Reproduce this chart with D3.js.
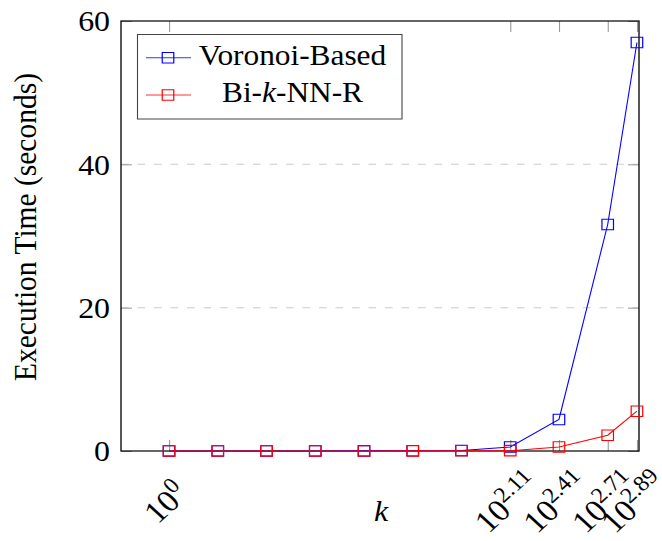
<!DOCTYPE html>
<html>
<head>
<meta charset="utf-8">
<script src="https://cdn.jsdelivr.net/npm/d3@7"></script>
<style>
  body { margin: 0; background: #fff; }
  text { font-family: "Liberation Serif", "Times New Roman", serif; fill: #000; }
</style>
</head>
<body>
<svg id="chart" width="662" height="541"></svg>
<script>
// data
var kValues = [1, 2, 4, 8, 16, 32, 64, 128, 256, 512, 776];
var voronoiTimes = [0.01, 0.01, 0.01, 0.01, 0.02, 0.03, 0.06, 0.56, 4.4, 31.6, 57.0];
var biknnTimes = [0.01, 0.01, 0.01, 0.01, 0.01, 0.02, 0.03, 0.05, 0.56, 2.2, 5.55];
var seriesNames = ["Voronoi-Based", "Bi-k-NN-R"];
var seriesColors = ["#0000ff", "#ff0000"];
var xTickValues = [1, 128, 256, 512, 776];
var xTickLabels = ["0", "2.11", "2.41", "2.71", "2.89"];
var yTickValues = [0, 20, 40, 60];

(function () {
    // the original figure is a bit wider than tall, stretch everything horizontally
    var SX = 1.1;
    var pLeft = 121, pRight = 639, pTop = 21, pBottom = 451;

    var svg = d3.select("#chart");
    var g = svg.append("g").attr("transform", "scale(" + SX + ",1)");

    var x = d3.scaleLog().domain([0.505, 799]).range([pLeft / SX, pRight / SX]);
    var y = d3.scaleLinear().domain([0, 60]).range([pBottom, pTop]);

    // grid
    g.append("g")
        .selectAll("line")
        .data([20, 40])
        .enter()
        .append("line")
        .attr("x1", pLeft / SX)
        .attr("x2", pRight / SX)
        .attr("y1", function (d) { return y(d); })
        .attr("y2", function (d) { return y(d); })
        .attr("stroke", "#cccccc")
        .attr("stroke-width", 1)
        .attr("stroke-dasharray", "7,8");

    // ticks, all pointing inside
    var tickLen = 11;
    var yLeft = g.append("g")
        .attr("transform", "translate(" + (pLeft / SX) + ",0)")
        .call(d3.axisLeft(y).tickValues(yTickValues).tickSize(-tickLen / SX).tickPadding(11 / SX));
    var yRight = g.append("g")
        .attr("transform", "translate(" + (pRight / SX) + ",0)")
        .call(d3.axisRight(y).tickValues(yTickValues).tickSize(-tickLen / SX).tickFormat(""));
    var xBottom = g.append("g")
        .attr("transform", "translate(0," + pBottom + ")")
        .call(d3.axisBottom(x).tickValues(xTickValues).tickSize(-tickLen).tickFormat(""));
    var xTop = g.append("g")
        .attr("transform", "translate(0," + pTop + ")")
        .call(d3.axisTop(x).tickValues(xTickValues).tickSize(-tickLen).tickFormat(""));

    [yLeft, yRight, xBottom, xTop].forEach(function (ax) {
        ax.select(".domain").remove();
        ax.selectAll(".tick line").attr("stroke", "#999999").attr("stroke-width", 1);
    });
    yLeft.selectAll(".tick text")
        .attr("font-size", 29)
        .attr("fill", "#000")
        .attr("dy", "0.34em");

    // x tick labels 10^n, rotated
    var xl = g.append("g")
        .selectAll(".xlabel")
        .data(xTickValues)
        .enter()
        .append("text")
        .classed("xlabel", true)
        .attr("text-anchor", "middle")
        .attr("font-size", 31)
        .attr("transform", function (d) { return "translate(" + (x(d) + 5 / SX) + ",510) rotate(-45)"; });
    xl.append("tspan").text("10");
    xl.append("tspan")
        .attr("font-size", 22)
        .attr("dy", -12)
        .text(function (d, i) { return xTickLabels[i]; });

    // frame
    g.append("rect")
        .attr("x", pLeft / SX)
        .attr("y", pTop)
        .attr("width", (pRight - pLeft) / SX)
        .attr("height", pBottom - pTop)
        .attr("fill", "none")
        .attr("stroke", "#000")
        .attr("stroke-width", 1.2);

    // series
    var series = [voronoiTimes, biknnTimes];
    var line = d3.line()
        .x(function (d, i) { return x(kValues[i]); })
        .y(function (d) { return y(d); });
    var square = d3.symbol().type(d3.symbolSquare).size(110);

    series.forEach(function (vals, s) {
        var sg = g.append("g").classed("series", true);
        sg.append("path")
            .datum(vals)
            .attr("d", line)
            .attr("fill", "none")
            .attr("stroke", seriesColors[s])
            .attr("stroke-width", 1);
        sg.selectAll(".mark")
            .data(vals)
            .enter()
            .append("path")
            .classed("mark", true)
            .attr("d", square)
            .attr("transform", function (d, i) { return "translate(" + x(kValues[i]) + "," + y(d) + ")"; })
            .attr("fill", "none")
            .attr("stroke", seriesColors[s])
            .attr("stroke-width", 1.1);
    });

    // axis titles
    g.append("text")
        .attr("transform", "translate(" + (36 / SX) + "," + 227 + ") rotate(-90)")
        .attr("text-anchor", "middle")
        .attr("font-size", 29.5)
        .text("Execution Time (seconds)");

    g.append("text")
        .attr("x", 381 / SX)
        .attr("y", 521)
        .attr("text-anchor", "middle")
        .attr("font-size", 29)
        .attr("font-style", "italic")
        .text("k");

    // legend
    var legend = g.append("g").classed("legend", true);
    legend.append("rect")
        .attr("x", 137.5 / SX)
        .attr("y", 34.5)
        .attr("width", 264.5 / SX)
        .attr("height", 84.5)
        .attr("fill", "#fff")
        .attr("stroke", "#444")
        .attr("stroke-width", 1);

    var rowY = [57.7, 95];
    var entries = legend.selectAll(".entry")
        .data(seriesNames)
        .enter()
        .append("g")
        .classed("entry", true)
        .attr("transform", function (d, i) { return "translate(0," + rowY[i] + ")"; });

    entries.append("line")
        .attr("x1", 146 / SX)
        .attr("x2", 191 / SX)
        .attr("stroke", function (d, i) { return seriesColors[i]; })
        .attr("stroke-opacity", 0.8)
        .attr("stroke-width", 1);
    entries.append("path")
        .attr("d", square)
        .attr("transform", "translate(" + (168 / SX) + ",0)")
        .attr("fill", "none")
        .attr("stroke", function (d, i) { return seriesColors[i]; })
        .attr("stroke-width", 1.1);

    var lt = entries.append("text")
        .attr("x", 292.5 / SX)
        .attr("y", 7)
        .attr("text-anchor", "middle")
        .attr("font-size", 28.5);
    lt.each(function (d) {
        var t = d3.select(this);
        var parts = d.split("-k-");
        if (parts.length === 2) {
            t.append("tspan").text(parts[0] + "-");
            t.append("tspan").attr("font-style", "italic").text("k");
            t.append("tspan").text("-" + parts[1]);
        } else {
            t.text(d);
        }
    });
})();
</script>
</body>
</html>
